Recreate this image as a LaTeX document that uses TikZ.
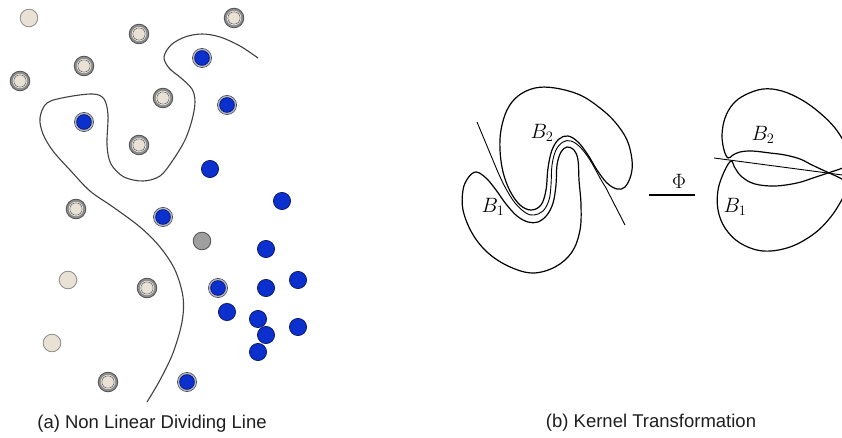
\documentclass[tikz,border=0pt]{standalone}
\usepackage{fontspec}
\usepackage{tikz}
\newfontfamily\capfont{Liberation Sans}
\definecolor{sand}    {RGB}{232, 225, 212}
\definecolor{ringgray}{RGB}{140, 140, 140}
\definecolor{edgegray}{RGB}{ 80,  80,  80}
\definecolor{dotblue} {RGB}{ 12,  48, 205}
\definecolor{navy}    {RGB}{ 10,  22, 100}
\definecolor{ringblue}{RGB}{130, 140, 175}
\definecolor{darktext}{RGB}{ 30,  30,  30}
\tikzset{
  sandpt/.style={fill=sand, draw=ringgray, line width=0.8pt},
  ringout/.style={fill=ringgray, draw=edgegray, line width=0.8pt},
  sandin/.style={fill=sand, draw=edgegray, line width=0.5pt},
  bluept/.style={fill=dotblue, draw=navy, line width=0.7pt},
  blueout/.style={fill=ringblue!60, draw=edgegray, line width=0.6pt},
  greypt/.style={fill=gray!75, draw=edgegray, line width=0.8pt},
  lobe/.style={draw=black, line width=1.2pt},
  caption/.style={font=\capfont\fontsize{18.5}{22}\selectfont, text=darktext},
  blabel/.style={font=\fontsize{20}{24}\selectfont}
}

\begin{document}
\begin{tikzpicture}[x=1pt, y=-1pt, line join=round]
  \useasboundingbox (0,0) rectangle (842,438);
  \clip (0,0) rectangle (842,438);
  % non linear dividing line
  \draw[edgegray!80!black, line width=1.1pt] plot[smooth, tension=0.55] coordinates {
    (258,58) (240,46) (220,37) (202,34) (185,37) (171,45) (164,57) (169,68)
    (181,78) (192,89) (195,102) (192,120) (185,140) (173,160) (160,176) (143,181)
    (124,177) (111,164) (107,145) (108,115) (104,99) (93,94) (67,97) (47,103)
    (40,118) (43,134) (53,151) (70,170) (90,191) (113,207) (140,227) (160,247)
    (175,270) (183,297) (182,322) (173,353) (160,380) (147,402)};
  % plain sand points
  \foreach \px/\py in {29/18, 68/280, 52/343}
    \filldraw[sandpt] (\px,\py) circle (8.8pt);
  % ringed sand points
  \foreach \px/\py in {139/34, 234/18, 84/66, 20/81, 163/98, 139/145, 76/209, 147/288, 108/382} {
    \filldraw[ringout] (\px,\py) circle (9.8pt);
    \fill[white] (\px,\py) circle (7.2pt);
    \filldraw[sandin] (\px,\py) circle (6.2pt);
  }
  % plain blue points
  \foreach \px/\py in {210/169, 282/201, 266/249, 266/288, 298/280, 227/312,
                       258/319, 298/327, 266/335, 258/352}
    \filldraw[bluept] (\px,\py) circle (8.6pt);
  % ringed blue points
  \foreach \px/\py in {202/58, 227/105, 84/122, 163/217, 218/288, 187/382} {
    \filldraw[blueout] (\px,\py) circle (9.6pt);
    \filldraw[bluept] (\px,\py) circle (7.4pt);
  }
  % unknown point
  \filldraw[greypt] (202,241) circle (8.8pt);

  % input space: two interlocking classes
  \draw[lobe] plot[smooth cycle, tension=0.6] coordinates {
    (535,88) (555,88) (580,95) (600,108) (615,122) (627,140) (632,160) (631,175)
    (625,187) (617,189) (607,183) (597,170) (588,155) (578,142) (568,136) (559,139)
    (552,150) (548,168) (546,190) (541,205) (531,210) (520,205) (510,191) (503,172)
    (500,150) (501,130) (507,110) (518,96)};
  \draw[lobe] plot[smooth cycle, tension=0.6] coordinates {
    (476,172) (486,178) (496,190) (506,204) (517,216) (528,222) (538,222) (547,215)
    (553,203) (556,185) (557,165) (561,152) (567,147) (574,150) (578,160) (579,180)
    (581,205) (580,230) (572,252) (555,267) (532,273) (508,266) (487,252) (472,233)
    (463,210) (463,190) (468,178)};
  % separating curve
  \draw[black, line width=0.9pt] (477,122) -- plot[smooth, tension=0.6] coordinates {
    (497,170) (505,187) (515,203) (526,213) (534,215) (543,211) (549,200) (551,185)
    (552,165) (556,150) (563,142) (571,141) (580,147) (590,160) (600,178) (606,188)}
    -- (625,225);
  \node[blabel] (inb2) at (542,133) {$B_2$};
  \node[blabel] (inb1) at (493,207) {$B_1$};

  % mapping
  \node[blabel] (phi) at (679,181) {$\Phi$};
  \coordinate (mapl) at (649,195);
  \coordinate (mapr) at (695,195);
  \draw[black, line width=1.3pt] (mapl) -- (mapr);

  % feature space
  \draw[lobe] plot[smooth, tension=0.6] coordinates {
    (850,184) (840,178) (827,172) (812,165) (800,159) (785,155) (770,153) (752,151)
    (740,152) (733,155) (728,158) (724,150) (722,135) (725,118) (733,104) (745,95)
    (763,89) (782,91) (802,100) (820,113) (835,128) (846,145)};
  \draw[lobe] plot[smooth, tension=0.6] coordinates {
    (850,165) (840,169) (828,173) (813,178) (797,183) (775,186) (755,184) (742,177)
    (735,168) (731,161) (724,172) (718,190) (718,210) (725,228) (740,243) (763,251)
    (790,247) (815,233) (833,214) (846,192)};
  \draw[black, line width=0.9pt] (714,158) -- (850,176);
  \node[blabel] (outb2) at (763,135) {$B_2$};
  \node[blabel] (outb1) at (735,207) {$B_1$};

  % captions
  \node[caption] (capa) at (152,424) {(a) Non Linear Dividing Line};
  \node[caption] (capb) at (651,423) {(b) Kernel Transformation};
\end{tikzpicture}
\end{document}
